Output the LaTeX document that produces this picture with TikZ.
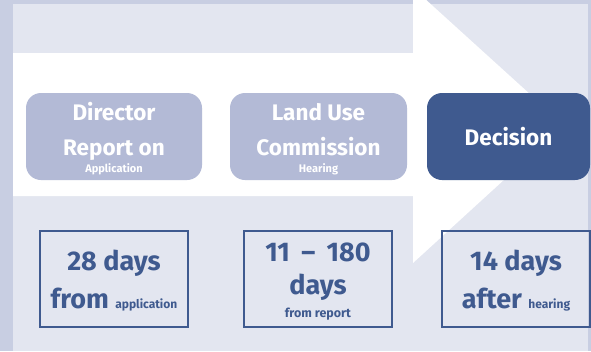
\documentclass[tikz,border=0pt]{standalone}
\usepackage{fontspec}
\setmainfont{Fira Sans}
\usepackage{tikz}
\usetikzlibrary{positioning}
\definecolor{lavender}{HTML}{E3E6F0}
\definecolor{edgestrip}{HTML}{C8CEE2}
\definecolor{stagegray}{HTML}{B3BAD6}
\definecolor{navy}{HTML}{3F5A8F}
\tikzset{
        stage/.style={rounded corners=15pt, minimum width=176pt, minimum height=87pt, inner sep=0pt}, % the rounded step boxes
        timebox/.style={draw=navy, line width=2.5pt, minimum width=148pt, minimum height=96pt, inner sep=0pt}, % the boxes with the day counts
        big/.style={anchor=base, inner sep=0pt, font=\bfseries\fontsize{22.5}{22.5}\selectfont},
        huge/.style={anchor=base, inner sep=0pt, text=navy, font=\bfseries\fontsize{27}{27}\selectfont},
        small/.style={anchor=base, inner sep=0pt, font=\bfseries\fontsize{11}{11}\selectfont},
}
\newcommand{\sm}[1]{{\fontsize{12}{12}\selectfont #1}}

\begin{document}
\begin{tikzpicture}[x=1pt,y=-1pt]
\useasboundingbox (0,0) rectangle (591,351);
\fill[lavender] (0,0) rectangle (591,351);
\fill[edgestrip] (0,0) rectangle (13,351);
\fill[edgestrip] (0,0) rectangle (591,4);
\fill[edgestrip] (588,0) rectangle (591,351);

% the big white arrow
\fill[white] (13,53) -- (413,53) -- (413,-12) -- (564,125) -- (413,263) -- (413,196) -- (13,196) -- cycle;

\node[stage, fill=stagegray] (director) at (114,136.5) {};
\node[stage, fill=stagegray, minimum width=177pt] (landuse) at (318.5,136.5) {};
\node[stage, fill=navy, minimum width=163pt] (decision) at (508.5,136.5) {};

\node[big, white] (dirA) at (114,120) {Director};
\node[big, white] (dirB) at (114,155) {Report on};
\node[small, white] (dirC) at (114,172) {Application};

\node[big, white] (lucA) at (318.5,120) {Land Use};
\node[big, white] (lucB) at (318.5,155) {Commission};
\node[small, white] (lucC) at (318.5,172) {Hearing};

\node[big, white] (decA) at (508.5,145) {Decision};

\node[timebox] (days1) at (114,279) {};
\node[timebox] (days2) at (318,279) {};
\node[timebox] (days3) at (516,279) {};

\node[huge] (d1A) at (114,270) {28 days};
\node[huge] (d1B) at (114,308) {from \sm{application}};

\node[huge] (d2A) at (318,261) {11\hspace{5pt} -- \hspace{5pt}180};
\node[huge] (d2B) at (318,294) {days};
\node[small, text=navy, font=\bfseries\fontsize{12.5}{12.5}\selectfont] (d2C) at (318,317) {from report};

\node[huge] (d3A) at (516,270) {14 days};
\node[huge] (d3B) at (516,308) {after \sm{hearing}};

\end{tikzpicture}
\end{document}
